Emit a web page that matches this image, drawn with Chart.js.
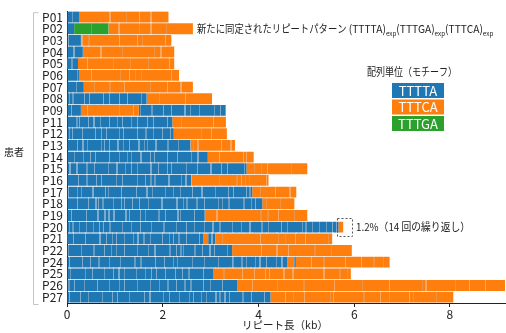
<!DOCTYPE html>
<html lang="ja">
<head>
<meta charset="UTF-8">
<title>リピート長</title>
<script src="https://cdn.jsdelivr.net/npm/chart.js"></script>
<style>
  html, body { margin: 0; padding: 0; background: #fff; }
  #wrap { width: 506px; height: 333px; }
</style>
</head>
<body>
<div id="wrap"><canvas id="c" width="506" height="333"></canvas></div>
<script>
// 患者ID
const patients = ['P01','P02','P03','P04','P05','P06','P07','P08','P09','P11','P12','P13','P14',
                  'P15','P16','P17','P18','P19','P20','P21','P22','P24','P25','P26','P27'];

// 左から順のセグメント長 (kb) とモチーフ (A=TTTTA, C=TTTCA, G=TTTGA)
const seg1 = [0.25,0.15,0.29,0.33,0.23,0.25,0.35,1.67,0.29,2.20,2.23,2.58,2.94,3.75,2.60,3.87,4.08,2.90,5.67,2.85,3.45,4.60,3.06,3.56,4.25];
const mot1 = ['A','A','A','A','A','A','A','A','A','A','A','A','A','A','A','A','A','A','A','A','A','A','A','A','A'];
const seg2 = [1.87,0.72,1.89,1.91,2.01,2.09,2.28,1.36,1.21,1.12,1.11,0.93,0.96,1.27,1.61,0.92,0.67,2.12,0.10,0.10,2.50,0.13,2.87,5.59,3.82];
const mot2 = ['C','G','C','C','C','C','C','C','C','C','C','C','C','C','C','C','C','C','C','C','C','C','C','C','C'];
const seg3 = [0,1.76,0,0,0,0,0,0,1.82,0,0,0,0,0,0,0,0,0,0,0.15,0,0.05,0,0,0];
const mot3 = ['A','C','A','A','A','A','A','A','A','A','A','A','A','A','A','A','A','A','A','A','A','A','A','A','A'];
const seg4 = [0,0,0,0,0,0,0,0,0,0,0,0,0,0,0,0,0,0,0,2.44,0,1.96,0,0,0];
const mot4 = ['C','C','C','C','C','C','C','C','C','C','C','C','C','C','C','C','C','C','C','C','C','C','C','C','C'];

const xTicks = [0, 2, 4, 6, 8];
const xMax = 9.15;

const motifs = ['TTTTA', 'TTTCA', 'TTTGA'];
const colors = { A: '#1f77b4', C: '#ff7f0e', G: '#2ca02c' };
const JP = '"Noto Sans CJK JP", "Noto Sans", sans-serif';

// 細い縦縞の質感 (配列の混在を表す)。行の位置は y 軸から取る
const stripeStyle = {
    A: { c: ['rgba(215,222,228,0.5)', 'rgba(160,185,205,0.55)'], gap: 12, seed: 12345 },
    C: { c: ['rgba(235,220,205,0.45)', 'rgba(200,185,170,0.35)'], gap: 30, seed: 777 },
    G: { c: ['rgba(210,225,210,0.35)', 'rgba(160,200,160,0.35)'], gap: 25, seed: 4242 }
};
const fills = {};
function getFill(chart, m) {
    if (fills[m]) return fills[m];
    const ys = chart.scales.y;
    if (!ys || !chart.chartArea) return colors[m];
    const st = stripeStyle[m];
    const cv = document.createElement('canvas');
    cv.width = 233; cv.height = chart.height;
    const g = cv.getContext('2d');
    g.fillStyle = colors[m];
    g.fillRect(0, 0, cv.width, cv.height);
    let s = st.seed;
    function rnd() { s = (s * 1103515245 + 12345) % 2147483648; return s / 2147483648; }
    const half = (ys.getPixelForValue(1) - ys.getPixelForValue(0)) / 2;
    for (let k = 0; k < patients.length; k++) {
        const cy = ys.getPixelForValue(k);
        const y0 = Math.floor(cy - half), y1 = Math.ceil(cy + half);
        let x = rnd() * st.gap;
        while (x < cv.width) {
            g.fillStyle = st.c[rnd() < 0.5 ? 0 : 1];
            g.fillRect(Math.floor(x), y0, rnd() < 0.75 ? 1 : 2, y1 - y0);
            x += 3 + rnd() * st.gap;
        }
    }
    fills[m] = g.createPattern(cv, 'repeat');
    return fills[m];
}

const segs = [[seg1, mot1], [seg2, mot2], [seg3, mot3], [seg4, mot4]];
const datasets = segs.map(function (sm, i) {
    return {
        label: 'seg' + (i + 1),
        data: sm[0],
        backgroundColor: c => getFill(c.chart, sm[1][c.dataIndex]),
        borderWidth: 0,
        barPercentage: 0.93,
        categoryPercentage: 1.0
    };
});

// 指定幅に収まるように横方向に縮めて描く
function fitText(ctx, text, x, y, width) {
    const w = ctx.measureText(text).width;
    ctx.save();
    ctx.translate(x, y);
    ctx.scale(width / w, 1);
    ctx.fillText(text, 0, 0);
    ctx.restore();
}

const deco = {
    id: 'deco',
    afterDraw(chart) {
        const ctx = chart.ctx;
        const area = chart.chartArea;
        const xs = chart.scales.x, ys = chart.scales.y;
        ctx.save();

        // 左の括弧
        ctx.strokeStyle = '#c4c4c4';
        ctx.lineWidth = 1;
        ctx.beginPath();
        ctx.moveTo(38.5, area.top + 1.5);
        ctx.lineTo(33.5, area.top + 1.5);
        ctx.lineTo(33.5, area.bottom + 1.5);
        ctx.lineTo(38.5, area.bottom + 1.5);
        ctx.stroke();

        ctx.fillStyle = '#222';
        ctx.textBaseline = 'middle';
        ctx.textAlign = 'center';
        ctx.font = '10px ' + JP;
        ctx.fillText('患者', 14, 152);

        // x軸タイトル
        ctx.font = '10.5px ' + JP;
        ctx.fillText('リピート長（kb）', 285, 325);
        ctx.textAlign = 'left';

        // 新規リピートパターン
        let px = 197;
        const py = ys.getPixelForValue(1);
        const parts = ['(TTTTA)', '(TTTGA)', '(TTTCA)'];
        ctx.font = '11px ' + JP;
        const lead = '新たに同定されたリピートパターン ';
        let w = ctx.measureText(lead).width * 0.85;
        fitText(ctx, lead, px, py, w);
        px += w;
        parts.forEach(function (p) {
            ctx.font = '11px ' + JP;
            w = ctx.measureText(p).width * 0.93;
            fitText(ctx, p, px, py, w);
            px += w;
            ctx.font = '7px ' + JP;
            w = ctx.measureText('exp').width * 0.9;
            fitText(ctx, 'exp', px, py + 5, w);
            px += w;
        });

        // 凡例
        ctx.font = '11px ' + JP;
        ctx.fillStyle = '#222';
        fitText(ctx, '配列単位（モチーフ）', 367, 72, 90);
        const keys = ['A', 'C', 'G'];
        const boxY = [83, 99.5, 116];
        keys.forEach(function (k, i) {
            ctx.fillStyle = colors[k];
            ctx.fillRect(392, boxY[i], 52, 15);
            ctx.fillStyle = '#fff';
            ctx.font = '13px ' + JP;
            ctx.textAlign = 'center';
            ctx.fillText(motifs[i], 418, boxY[i] + 8);
            ctx.textAlign = 'left';
        });

        // P20 の末尾 (1.2%)
        const r = patients.indexOf('P20');
        const cy = ys.getPixelForValue(r);
        const x0 = xs.getPixelForValue(5.64), x1 = xs.getPixelForValue(5.95);
        ctx.strokeStyle = '#555';
        ctx.setLineDash([2, 2]);
        ctx.strokeRect(Math.round(x0) + 0.5, Math.round(cy - 9) + 0.5, Math.round(x1 - x0), 18);
        ctx.setLineDash([]);
        ctx.fillStyle = '#222';
        ctx.font = '11px ' + JP;
        fitText(ctx, '1.2%（14 回の繰り返し）', 356, cy, 114);

        ctx.restore();
    }
};

new Chart(document.getElementById('c').getContext('2d'), {
    type: 'bar',
    data: { labels: patients, datasets: datasets },
    options: {
        responsive: false,
        animation: false,
        indexAxis: 'y',
        layout: { padding: { top: 8, right: 1, left: 0, bottom: 0 } },
        plugins: { legend: { display: false }, tooltip: { enabled: false } },
        scales: {
            x: {
                stacked: true,
                min: 0,
                max: xMax,
                afterBuildTicks(scale) { scale.ticks = xTicks.map(v => ({ value: v })); },
                afterFit(scale) { scale.height = 30; },
                grid: { drawOnChartArea: false, drawTicks: true, tickLength: 4, color: '#222' },
                border: { color: '#222', width: 1 },
                ticks: { color: '#222', font: { size: 12, family: JP }, padding: 0, maxRotation: 0 }
            },
            y: {
                stacked: true,
                afterFit(scale) { scale.width = 67; },
                grid: { display: false, drawTicks: false, tickLength: 0 },
                border: { display: true, color: '#222', width: 1 },
                ticks: { color: '#222', font: { size: 12, family: JP }, padding: 4, autoSkip: false }
            }
        }
    },
    plugins: [deco]
});
</script>
</body>
</html>
